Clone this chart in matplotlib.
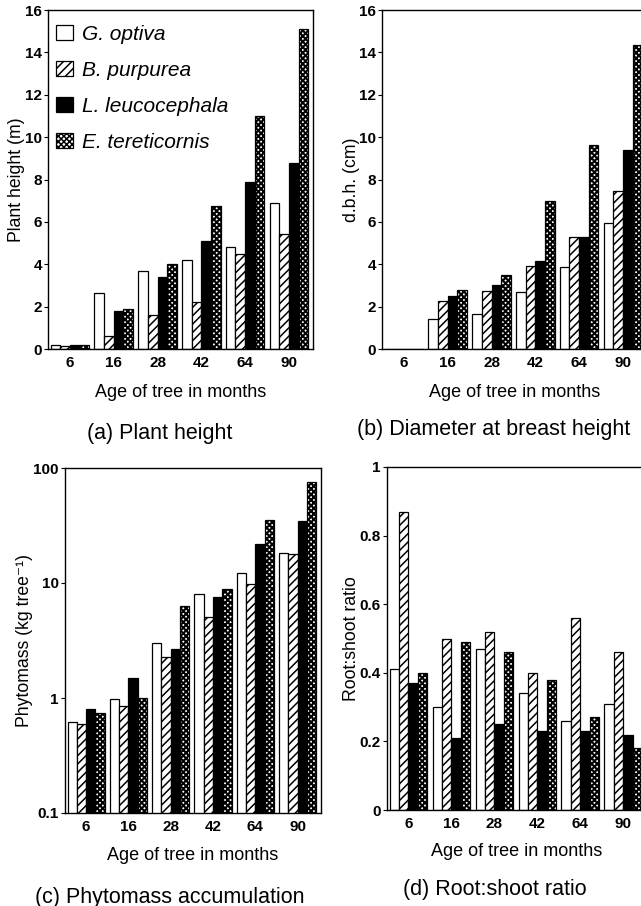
import numpy as np
import matplotlib
matplotlib.use("Agg")
import matplotlib.pyplot as plt

plt.rcParams['font.family'] = ['Liberation Sans', 'DejaVu Sans']
plt.rcParams['hatch.linewidth'] = 1.1

ages = ['6', '16', '28', '42', '64', '90']
species = ['G. optiva', 'B. purpurea', 'L. leucocephala', 'E. tereticornis']

height_G = [0.2, 2.65, 3.7, 4.2, 4.8, 6.9]
height_B = [0.15, 0.6, 1.6, 2.2, 4.5, 5.45]
height_L = [0.2, 1.8, 3.4, 5.1, 7.9, 8.8]
height_E = [0.2, 1.9, 4.0, 6.75, 11.0, 15.1]

dbh_G = [0, 1.4, 1.65, 2.7, 3.85, 5.95]
dbh_B = [0, 2.25, 2.75, 3.9, 5.3, 7.45]
dbh_L = [0, 2.5, 3.0, 4.15, 5.3, 9.4]
dbh_E = [0, 2.8, 3.5, 7.0, 9.65, 14.35]

phyto_G = [0.62, 0.98, 3.0, 8.1, 12.2, 18.3]
phyto_B = [0.60, 0.86, 2.27, 5.1, 9.9, 17.9]
phyto_L = [0.80, 1.48, 2.67, 7.6, 21.8, 34.6]
phyto_E = [0.74, 1.0, 6.3, 8.8, 35.5, 76.0]

rs_G = [0.41, 0.30, 0.47, 0.34, 0.26, 0.31]
rs_B = [0.87, 0.50, 0.52, 0.40, 0.56, 0.46]
rs_L = [0.37, 0.21, 0.25, 0.23, 0.23, 0.22]
rs_E = [0.40, 0.49, 0.46, 0.38, 0.27, 0.18]

styles = [dict(facecolor='white', hatch=None),
          dict(facecolor='white', hatch='////'),
          dict(facecolor='black', hatch=None),
          dict(facecolor='white', hatch='xxxxxx')]
hatch_lw = [1.1, 1.1, 1.1, 1.5]

W, H = 641, 906
fig = plt.figure(figsize=(W / 100, H / 100), dpi=100)

TICK_FS = 11
XL_FS = 13
YL_FS = 12.7
TITLE_FS = 15.5


def px_axes(left, top, right, bottom):
    return fig.add_axes([left / W, 1 - bottom / H, (right - left) / W, (bottom - top) / H])


def draw(ax, series, ylabel):
    x = np.arange(len(ages))
    bw = 0.22
    for i, (vals, st) in enumerate(zip(series, styles)):
        with plt.rc_context({'hatch.linewidth': hatch_lw[i]}):
            ax.bar(x + (i - 1.5) * bw, vals, bw, edgecolor='black', linewidth=0.9,
                   label=species[i], **st)
    ax.set_xticks(x)
    ax.set_xticklabels(ages)
    ax.set_xlim(-0.5, 5.55)
    ax.tick_params(axis='x', length=0, pad=5, labelsize=TICK_FS)
    ax.tick_params(axis='y', length=3, width=0.8, direction='out', labelsize=TICK_FS, pad=1.5)
    for s in ax.spines.values():
        s.set_linewidth(1.0)
    ax.set_xlabel('Age of tree in months', fontsize=XL_FS)
    ax.set_ylabel(ylabel, fontsize=YL_FS)


def bold_ticks(ax):
    for lab in ax.get_xticklabels() + ax.get_yticklabels():
        lab.set_fontweight('bold')


# (a) Plant height
axA = px_axes(48, 10, 313, 349)
draw(axA, [height_G, height_B, height_L, height_E], 'Plant height (m)')
axA.set_ylim(0, 16)
axA.set_yticks(range(0, 17, 2))
axA.legend(loc='upper left', bbox_to_anchor=(0.008, 0.975), frameon=False,
           prop=dict(style='italic', size=15),
           handlelength=0.82, handleheight=0.75, handletextpad=0.43,
           labelspacing=0.82, borderaxespad=0.0, borderpad=0.3)

# (b) d.b.h.
axB = px_axes(382, 10, 647, 349)
draw(axB, [dbh_G, dbh_B, dbh_L, dbh_E], 'd.b.h. (cm)')
axB.set_ylim(0, 16)
axB.set_yticks(range(0, 17, 2))

# (c) Phytomass
axC = px_axes(65, 468, 321, 813)
draw(axC, [phyto_G, phyto_B, phyto_L, phyto_E], 'Phytomass (kg tree\u207b\u00b9)')
axC.set_yscale('log')
axC.set_ylim(0.1, 100)
axC.set_yticks([0.1, 1, 10, 100])
axC.set_yticklabels(['0.1', '1', '10', '100'])
axC.minorticks_off()

# (d) Root:shoot
axD = px_axes(387, 467, 647, 810)
draw(axD, [rs_G, rs_B, rs_L, rs_E], 'Root:shoot ratio')
axD.set_ylim(0, 1)
axD.set_yticks([0, 0.2, 0.4, 0.6, 0.8, 1.0])
axD.set_yticklabels(['0', '0.2', '0.4', '0.6', '0.8', '1'])

for ax in (axA, axB, axC, axD):
    bold_ticks(ax)


def place_labels(ax, box, xl_y, yl_x):
    left, top, right, bottom = box
    ax.xaxis.set_label_coords(0.5, -(xl_y - bottom) / (bottom - top))
    ax.xaxis.label.set_va('center')
    ax.yaxis.set_label_coords(-(left - yl_x) / (right - left), 0.5)
    ax.yaxis.label.set_va('center')


place_labels(axA, (48, 10, 313, 349), 392, 17)
place_labels(axB, (382, 10, 647, 349), 392, 352)
place_labels(axC, (65, 468, 321, 813), 855, 25)
place_labels(axD, (387, 467, 647, 810), 852, 352)

fig.text(160 / W, 1 - 433 / H, '(a) Plant height', ha='center', va='center', fontsize=TITLE_FS)
fig.text(494 / W, 1 - 430 / H, '(b) Diameter at breast height', ha='center', va='center', fontsize=TITLE_FS)
fig.text(170 / W, 1 - 897 / H, '(c) Phytomass accumulation', ha='center', va='center', fontsize=TITLE_FS)
fig.text(495 / W, 1 - 890 / H, '(d) Root:shoot ratio', ha='center', va='center', fontsize=TITLE_FS)

fig.savefig('out.png', dpi=100)
